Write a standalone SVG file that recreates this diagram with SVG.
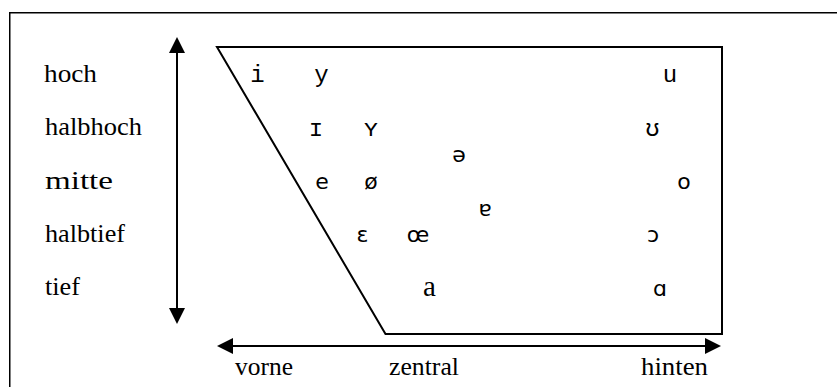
<svg xmlns="http://www.w3.org/2000/svg" width="837" height="387" viewBox="0 0 837 387">
<style>
.lbl{font-family:"Liberation Serif","Times New Roman",serif;font-size:26px;fill:#000}
.m{font-family:"Liberation Mono","DejaVu Sans Mono",monospace;font-size:24px;fill:#000;text-anchor:middle}
.s{font-family:"DejaVu Sans","Liberation Sans",sans-serif;font-size:22px;fill:#000;text-anchor:middle}
.t{font-family:"Liberation Serif",serif;font-size:29px;fill:#000;text-anchor:middle}
.ln{stroke:#000;stroke-width:2;fill:none}
</style>
<defs>
<marker id="ah" markerUnits="userSpaceOnUse" markerWidth="16" markerHeight="16" refX="0" refY="8" orient="auto-start-reverse" viewBox="0 0 16 16">
<path d="M0,0 L16,8 L0,16 z" fill="#000"/>
</marker>
</defs>
<rect width="837" height="387" fill="#fff"/>
<path d="M9.75,387 V12.75 H837" fill="none" stroke="#000" stroke-width="1.5"/>
<g id="trapezoid">
<path class="ln" d="M217,47 L722,47 L722,334 L385.5,334 Z" stroke-linejoin="miter"/>
</g>
<g id="connectors">
<line class="ln" x1="177" y1="53" x2="177" y2="308" marker-start="url(#ah)" marker-end="url(#ah)"/>
<line class="ln" x1="233" y1="346" x2="705" y2="346" marker-start="url(#ah)" marker-end="url(#ah)"/>
</g>
<g id="height-labels">
<text class="lbl" x="44" y="82" textLength="53" lengthAdjust="spacingAndGlyphs">hoch</text>
<text class="lbl" x="45" y="135" textLength="97" lengthAdjust="spacingAndGlyphs">halbhoch</text>
<text class="lbl" x="45" y="189" textLength="68" lengthAdjust="spacingAndGlyphs">mitte</text>
<text class="lbl" x="45" y="242" textLength="80" lengthAdjust="spacingAndGlyphs">halbtief</text>
<text class="lbl" x="45" y="295" textLength="35" lengthAdjust="spacingAndGlyphs">tief</text>
</g>
<g id="position-labels">
<text class="lbl" x="235" y="375" textLength="58" lengthAdjust="spacingAndGlyphs">vorne</text>
<text class="lbl" x="389" y="375" textLength="70" lengthAdjust="spacingAndGlyphs">zentral</text>
<text class="lbl" x="641" y="375" textLength="67" lengthAdjust="spacingAndGlyphs">hinten</text>
</g>
<g id="vowels">
<text class="m" x="257.5" y="82">i</text>
<text class="m" x="321.5" y="82">y</text>
<text class="m" x="670" y="82">u</text>
<text class="m" x="316" y="136">ɪ</text>
<text class="m" x="371" y="136">ʏ</text>
<text class="m" x="652.5" y="136">ʊ</text>
<text class="s" x="459" y="161.5">ə</text>
<text class="s" x="322" y="189">e</text>
<text class="s" x="371" y="189">ø</text>
<text class="s" x="684" y="188.5">o</text>
<text class="s" x="485" y="215.5">ɐ</text>
<text class="s" x="362.5" y="241.5">ɛ</text>
<text class="s" x="418" y="241.5">œ</text>
<text class="s" x="653" y="241.5">ɔ</text>
<text class="t" x="429.5" y="296">a</text>
<text class="s" x="660" y="295.5">ɑ</text>
</g>
</svg>
